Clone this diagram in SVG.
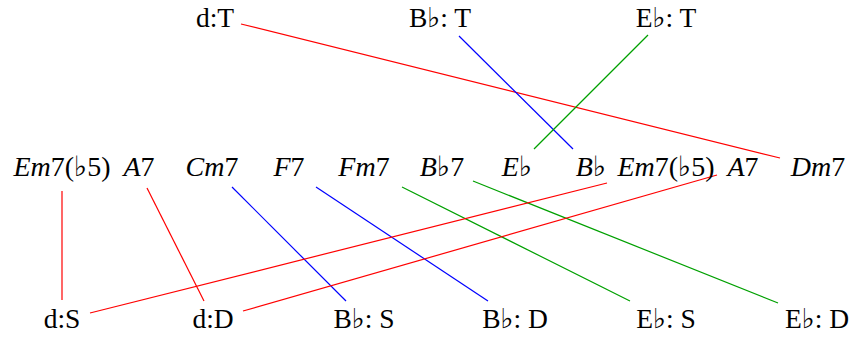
<svg xmlns="http://www.w3.org/2000/svg" width="850" height="338" viewBox="0 0 850 338">
<style>
text{font-family:"Liberation Serif","DejaVu Serif",serif;font-size:27.5px;fill:#000;text-anchor:middle}
.m{font-size:28px}
.i{font-style:italic}
line{stroke-width:1.2;fill:none}
.r{stroke:#ff0000}.b{stroke:#0000ff}.g{stroke:#00a000}
</style>
<rect width="850" height="338" fill="#fff"/>
<g id="connectors">
<line class="r" x1="241" y1="24" x2="780" y2="158"/>
<line class="b" x1="459" y1="36" x2="573" y2="149"/>
<line class="g" x1="648" y1="35" x2="534" y2="149"/>
<line class="r" x1="62" y1="191" x2="62" y2="300"/>
<line class="r" x1="147" y1="188" x2="204" y2="301"/>
<line class="b" x1="232" y1="187" x2="346" y2="301"/>
<line class="b" x1="316" y1="187" x2="488" y2="301"/>
<line class="g" x1="402" y1="187" x2="630" y2="301"/>
<line class="g" x1="473" y1="181" x2="778" y2="303"/>
<line class="r" x1="607" y1="183" x2="90" y2="313"/>
<line class="r" x1="717" y1="175" x2="243" y2="311"/>
</g>
<g id="top-dT"><text x="215" y="27">d:T</text></g>
<g id="top-BbT"><text x="440" y="27">B♭: T</text></g>
<g id="top-EbT"><text x="666" y="27">E♭: T</text></g>
<g id="mid-Em7b5-1"><text class="m" x="62" y="176"><tspan class="i">Em</tspan>7(♭5)</text></g>
<g id="mid-A7-1"><text class="m" x="139" y="176"><tspan class="i">A</tspan>7</text></g>
<g id="mid-Cm7"><text class="m" x="212" y="176"><tspan class="i">Cm</tspan>7</text></g>
<g id="mid-F7"><text class="m" x="289" y="176"><tspan class="i">F</tspan>7</text></g>
<g id="mid-Fm7"><text class="m" x="364" y="176"><tspan class="i">Fm</tspan>7</text></g>
<g id="mid-Bb7"><text class="m" x="442" y="176"><tspan class="i">B</tspan>♭7</text></g>
<g id="mid-Eb"><text class="m" x="517" y="176"><tspan class="i">E</tspan>♭</text></g>
<g id="mid-Bb"><text class="m" x="591" y="176"><tspan class="i">B</tspan>♭</text></g>
<g id="mid-Em7b5-2"><text class="m" x="666" y="176"><tspan class="i">Em</tspan>7(♭5)</text></g>
<g id="mid-A7-2"><text class="m" x="743" y="176"><tspan class="i">A</tspan>7</text></g>
<g id="mid-Dm7"><text class="m" x="818" y="176"><tspan class="i">Dm</tspan>7</text></g>
<g id="bot-dS"><text x="62" y="328">d:S</text></g>
<g id="bot-dD"><text x="213" y="328">d:D</text></g>
<g id="bot-BbS"><text x="364" y="328">B♭: S</text></g>
<g id="bot-BbD"><text x="515" y="328">B♭: D</text></g>
<g id="bot-EbS"><text x="666" y="328">E♭: S</text></g>
<g id="bot-EbD"><text x="817" y="328">E♭: D</text></g>
</svg>
